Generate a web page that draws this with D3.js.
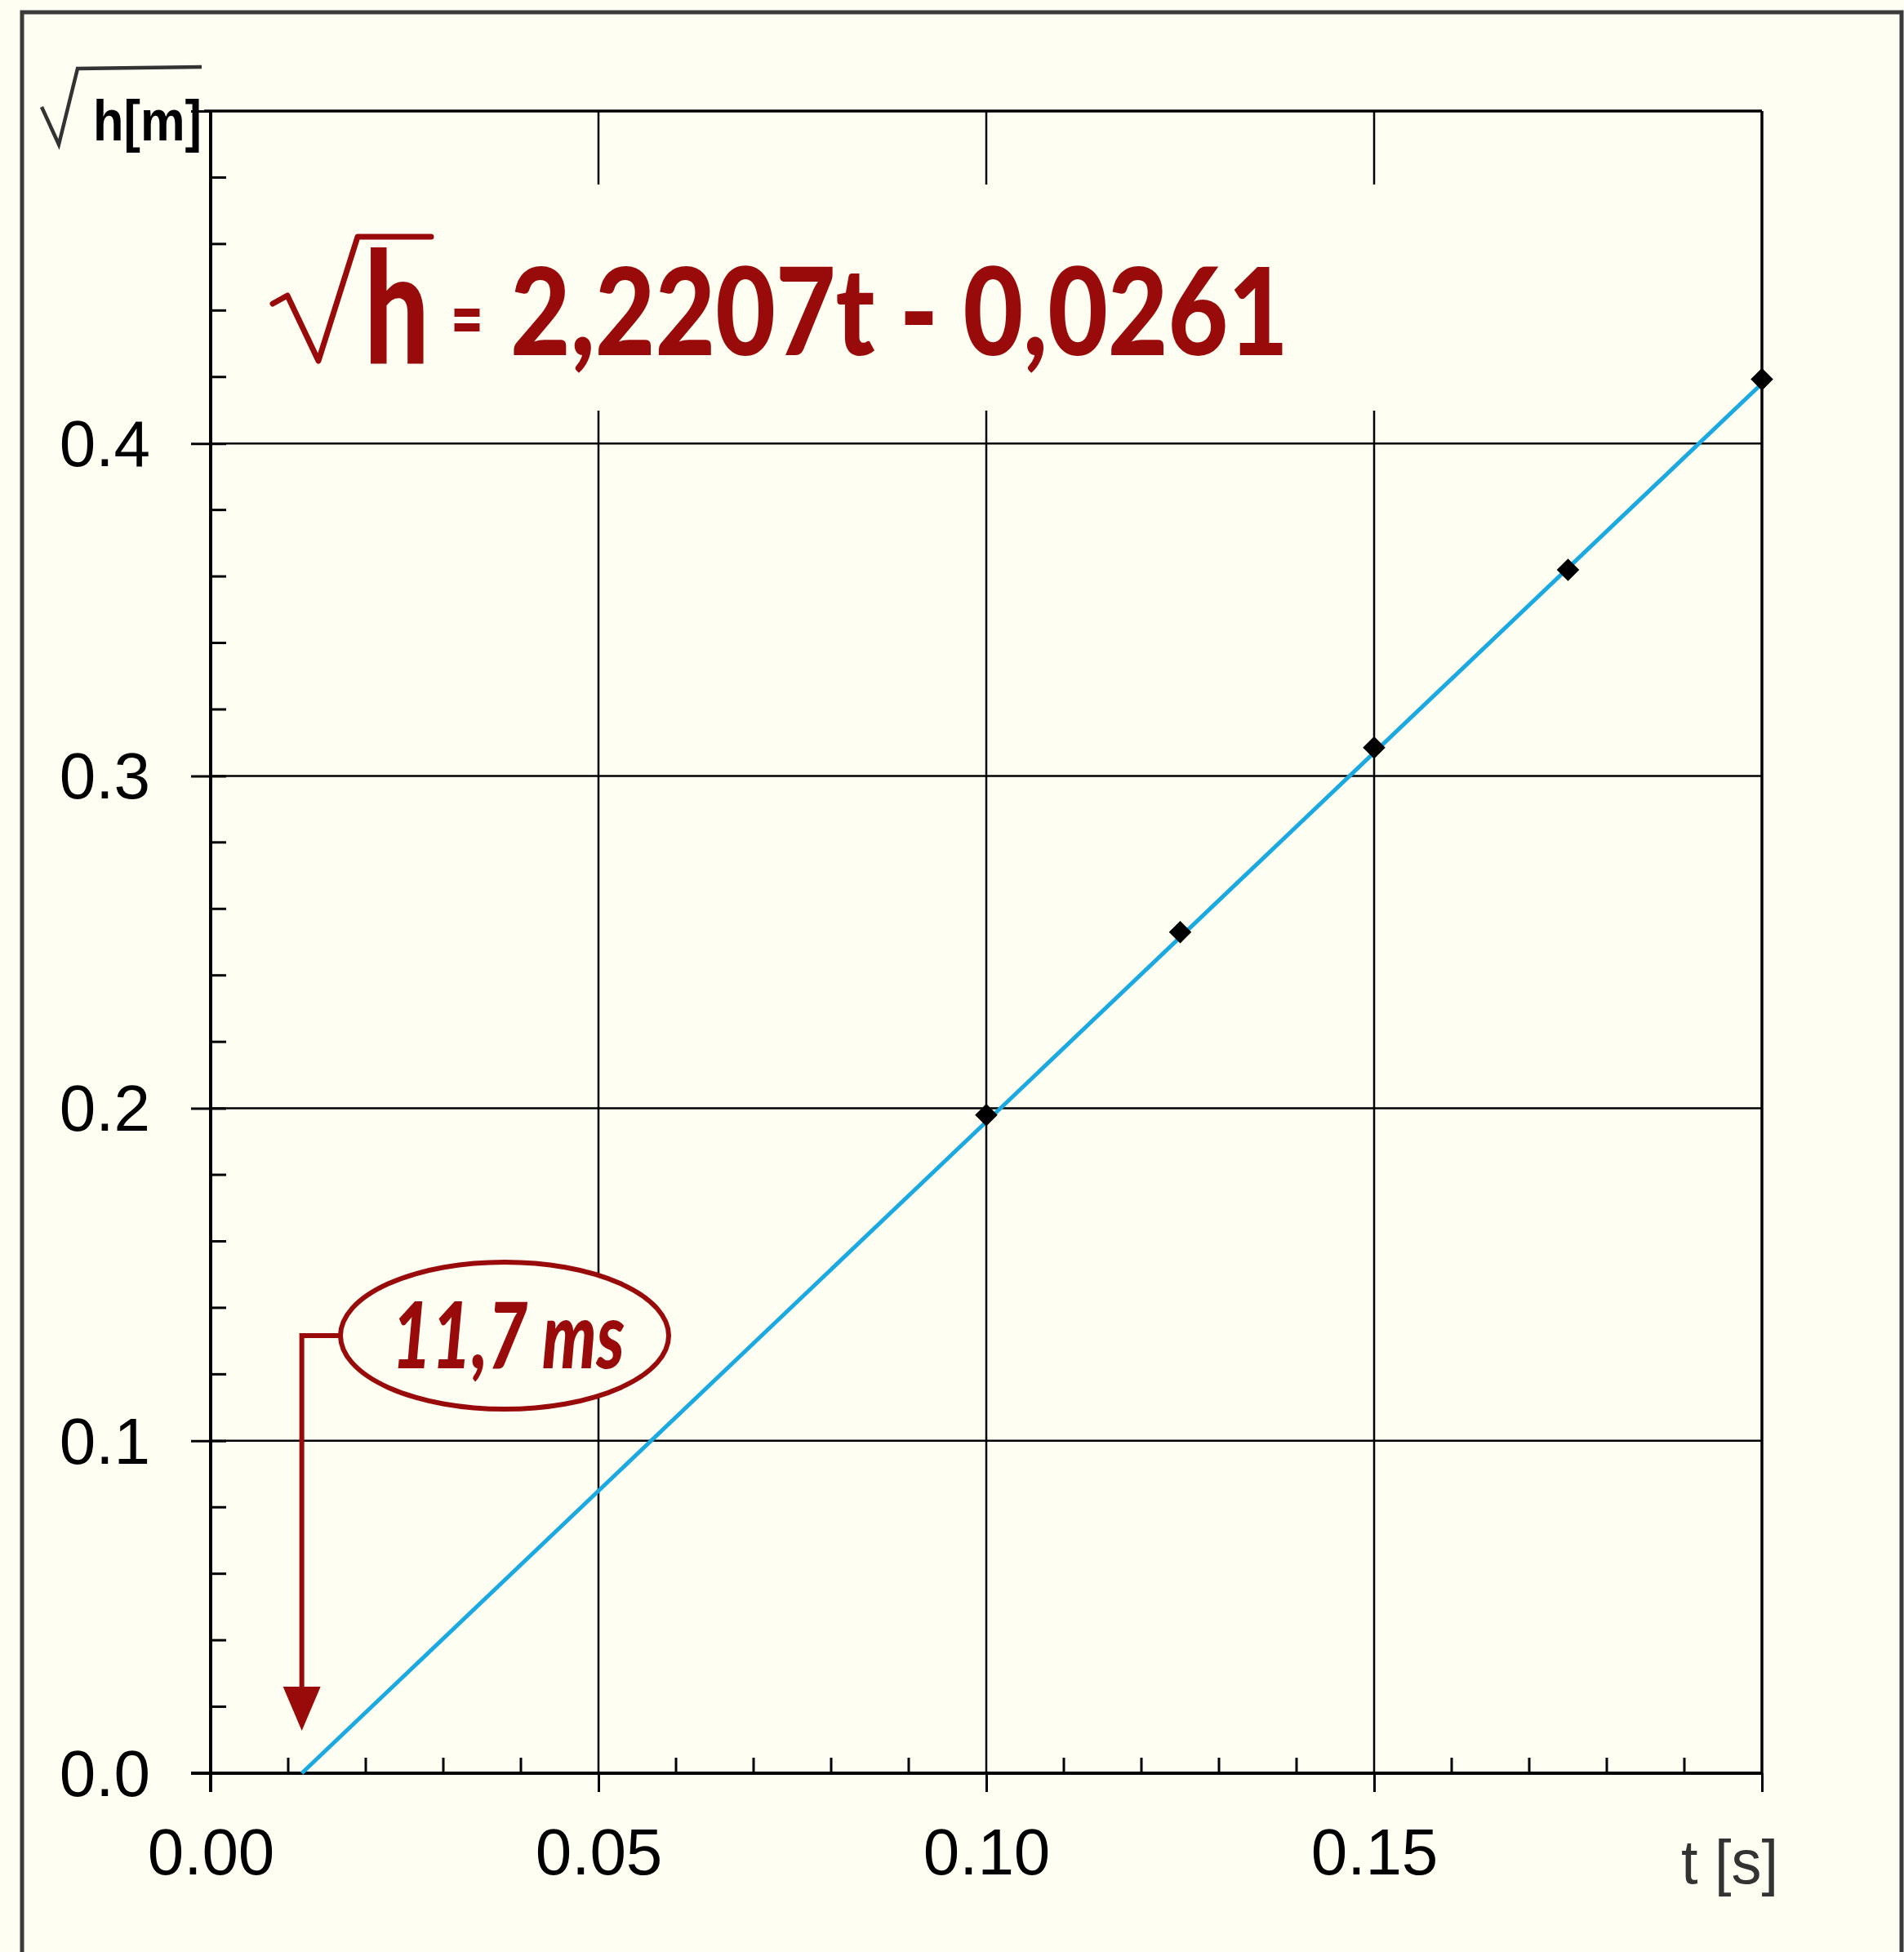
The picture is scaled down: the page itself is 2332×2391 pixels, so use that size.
<!DOCTYPE html>
<html>
<head>
<meta charset="utf-8">
<script src="https://cdn.jsdelivr.net/npm/d3@7"></script>
<style>
  html, body { margin: 0; padding: 0; background: #fffef2; }
  svg { display: block; }
</style>
</head>
<body>
<script>
// Measured drop times and square roots of fall height
const times = [0.100, 0.125, 0.150, 0.175, 0.200];
const sqrtH = [0.198, 0.253, 0.3085, 0.362, 0.4193];

// Linear fit  sqrt(h) = slope * t + intercept
const slope = 2.2207;
const intercept = -0.0261;
const delayLabel = "11,7 ms";
const fitLabel = "2,2207t - 0,0261";

const xMajor = [0, 0.05, 0.10, 0.15, 0.20];
const xMajorLabels = ["0.00", "0.05", "0.10", "0.15", ""];
const yMajor = [0, 0.1, 0.2, 0.3, 0.4, 0.5];
const yMajorLabels = ["0.0", "0.1", "0.2", "0.3", "0.4", ""];
const xMinor = d3.range(1, 20).map(i => i / 100).filter(v => Math.round(v * 100) % 5 !== 0);
const yMinor = d3.range(1, 25).map(i => i / 50).filter(v => Math.round(v * 50) % 5 !== 0);

const W = 2332, H = 2391;
const bg = "#fffef2";
const red = "#990b0b";
const blue = "#1ba9e1";

const svg = d3.select("body").append("svg")
  .attr("width", W).attr("height", H);

svg.append("rect").attr("width", W).attr("height", H).attr("fill", bg);

// outer frame
svg.append("rect")
  .attr("x", 27).attr("y", 15).attr("width", 2302).attr("height", 2420)
  .attr("fill", "none").attr("stroke", "#3a3a3a").attr("stroke-width", 5);

const x = d3.scaleLinear().domain([0, 0.2]).range([258, 2158]);
const y = d3.scaleLinear().domain([0, 0.5]).range([2172, 136]);

// grid
const grid = svg.append("g").attr("stroke", "#000");
grid.selectAll("line.vg").data(xMajor.slice(1)).join("line")
  .attr("x1", d => x(d)).attr("x2", d => x(d))
  .attr("y1", y(0.5)).attr("y2", y(0))
  .attr("stroke-width", d => d === 0.2 ? 3.5 : 2.5);
grid.selectAll("line.hg").data(yMajor.slice(1)).join("line")
  .attr("x1", x(0)).attr("x2", x(0.2))
  .attr("y1", d => y(d)).attr("y2", d => y(d))
  .attr("stroke-width", d => d === 0.5 ? 3.5 : 2.5);

// minor ticks (inside)
svg.append("g").selectAll("line").data(yMinor).join("line")
  .attr("x1", x(0)).attr("x2", x(0) + 19)
  .attr("y1", d => y(d)).attr("y2", d => y(d))
  .attr("stroke", "#000").attr("stroke-width", 3);
svg.append("g").selectAll("line").data(xMinor).join("line")
  .attr("x1", d => x(d)).attr("x2", d => x(d))
  .attr("y1", y(0)).attr("y2", y(0) - 19)
  .attr("stroke", "#000").attr("stroke-width", 3);

// y axis
const yAxis = d3.axisLeft(y)
  .tickValues(yMajor)
  .tickFormat((d, i) => yMajorLabels[i])
  .tickSize(24).tickSizeOuter(0).tickPadding(50);
const gy = svg.append("g").attr("transform", `translate(${x(0)},0)`).call(yAxis);
gy.select(".domain").remove();
gy.selectAll(".tick line").attr("x2", -24).attr("x1", d => d === 0.5 ? 0 : 19)
  .attr("stroke", "#000").attr("stroke-width", 3);
gy.selectAll(".tick text")
  .attr("font-family", "'Liberation Sans', Arial, sans-serif")
  .attr("font-size", 80).attr("fill", "#000").attr("dy", "0.34em");

// x axis
const xAxis = d3.axisBottom(x)
  .tickValues(xMajor)
  .tickFormat((d, i) => xMajorLabels[i])
  .tickSize(23).tickSizeOuter(0).tickPadding(44);
const gx = svg.append("g").attr("transform", `translate(0,${y(0)})`).call(xAxis);
gx.select(".domain").remove();
gx.selectAll(".tick line").attr("stroke", "#000").attr("stroke-width", 3);
gx.selectAll(".tick text")
  .attr("font-family", "'Liberation Sans', Arial, sans-serif")
  .attr("font-size", 80).attr("fill", "#000");

// axis lines
svg.append("line")
  .attr("x1", x(0) - 24).attr("x2", x(0.2))
  .attr("y1", y(0)).attr("y2", y(0))
  .attr("stroke", "#000").attr("stroke-width", 4);
svg.append("line")
  .attr("x1", x(0)).attr("x2", x(0))
  .attr("y1", y(0.5)).attr("y2", y(0) + 23)
  .attr("stroke", "#000").attr("stroke-width", 4);
svg.append("line")
  .attr("x1", x(0) - 8).attr("x2", x(0))
  .attr("y1", y(0.5)).attr("y2", y(0.5))
  .attr("stroke", "#000").attr("stroke-width", 3.5);

// axis titles
svg.append("path")
  .attr("d", "M51,131 L72,177 L95,84 L247,82")
  .attr("fill", "none").attr("stroke", "#333").attr("stroke-width", 4.5)
  .attr("stroke-linejoin", "miter");
svg.append("text")
  .attr("x", 114).attr("y", 172)
  .attr("font-family", "'Liberation Sans', Arial, sans-serif")
  .attr("font-weight", "bold").attr("font-size", 70)
  .attr("textLength", 133).attr("lengthAdjust", "spacingAndGlyphs")
  .attr("fill", "#000").text("h[m]");
svg.append("text")
  .attr("x", 2059).attr("y", 2307)
  .attr("font-family", "'Liberation Sans', Arial, sans-serif")
  .attr("font-size", 76)
  .attr("textLength", 119).attr("lengthAdjust", "spacingAndGlyphs")
  .attr("fill", "#333").text("t [s]");

// fitted line, from the zero crossing to the last sample
const t0 = -intercept / slope;
const fitLine = d3.line().x(d => x(d)).y(d => y(slope * d + intercept));
svg.append("path")
  .datum([t0, 0.2])
  .attr("d", fitLine)
  .attr("fill", "none").attr("stroke", blue).attr("stroke-width", 5);

// samples
const diamond = d3.symbol().type(d3.symbolSquare).size(380);
svg.append("g").selectAll("path").data(times).join("path")
  .attr("d", diamond)
  .attr("transform", (d, i) => `translate(${x(d)},${y(sqrtH[i])}) rotate(45)`)
  .attr("fill", "#000");

// equation box
const handFont = "'Comic Sans MS', Lato, 'Open Sans', sans-serif";
svg.append("rect")
  .attr("x", 300).attr("y", 226).attr("width", 1420).attr("height", 277)
  .attr("fill", bg);
svg.append("path")
  .attr("d", "M334,372 L352,362 L390,442 L438,290 L528,290")
  .attr("fill", "none").attr("stroke", red).attr("stroke-width", 7)
  .attr("stroke-linejoin", "round").attr("stroke-linecap", "round");
const eq = svg.append("text")
  .attr("x", 446).attr("y", 445)
  .attr("font-family", handFont).attr("font-weight", 900)
  .attr("fill", red);
eq.append("tspan")
  .attr("font-size", 190)
  .attr("textLength", 80).attr("lengthAdjust", "spacingAndGlyphs")
  .text("h");
eq.append("tspan")
  .attr("x", 552).attr("y", 425)
  .attr("font-size", 100)
  .attr("textLength", 40).attr("lengthAdjust", "spacingAndGlyphs")
  .text("=");
eq.append("tspan")
  .attr("x", 625).attr("y", 435)
  .attr("font-size", 148)
  .attr("textLength", 953).attr("lengthAdjust", "spacingAndGlyphs")
  .text(fitLabel);

// delay callout
const cx = 618, cy = 1636;
const ax = x(t0);
svg.append("path")
  .attr("d", `M${cx - 201},${cy} H${ax} V${y(0) - 100}`)
  .attr("fill", "none").attr("stroke", red).attr("stroke-width", 6);
svg.append("path")
  .attr("d", `M${ax - 23},${y(0) - 106} L${ax + 23},${y(0) - 106} L${ax},${y(0) - 52} Z`)
  .attr("fill", red);
svg.append("ellipse")
  .attr("cx", cx).attr("cy", cy).attr("rx", 201).attr("ry", 90)
  .attr("fill", bg).attr("stroke", red).attr("stroke-width", 6);
svg.append("text")
  .attr("x", 480).attr("y", 1676)
  .attr("font-family", handFont).attr("font-weight", 900).attr("font-style", "italic")
  .attr("font-size", 112)
  .attr("textLength", 285).attr("lengthAdjust", "spacingAndGlyphs")
  .attr("fill", red).text(delayLabel);
</script>
</body>
</html>
